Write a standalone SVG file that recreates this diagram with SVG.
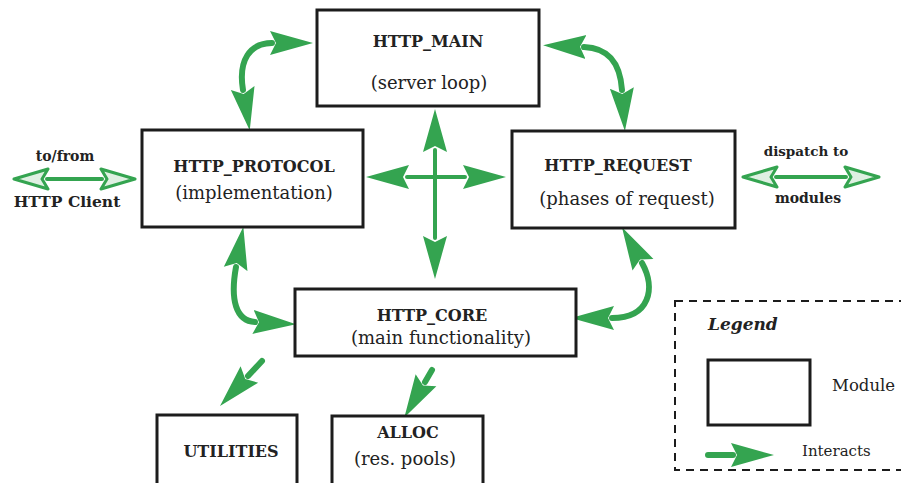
<svg xmlns="http://www.w3.org/2000/svg" width="901" height="483" viewBox="0 0 901 483">
<style>
.box{fill:#fff;stroke:#1c1c1c;stroke-width:3}
.t{font-family:"DejaVu Serif","Liberation Serif",serif;fill:#222;text-anchor:middle}
.ti{font-size:16px;font-weight:bold}
.sub{font-size:18px}
.sm{font-size:14px;font-weight:bold}
.lg{font-size:16.5px}
.ar{fill:none;stroke:#34a450;stroke-linecap:round}
.curve{stroke-width:6}
.thin{stroke-width:4}
</style>
<defs>
<marker id="head" markerUnits="userSpaceOnUse" markerWidth="46" markerHeight="28" refX="2" refY="14" orient="auto-start-reverse">
<path d="M0,2 L43,14 L0,26 L6,14 Z" fill="#34a450"/>
</marker>
<marker id="hollow" markerUnits="userSpaceOnUse" markerWidth="40" markerHeight="26" refX="3" refY="13" orient="auto-start-reverse">
<path d="M2,3 L36,13 L2,23 L8,13 Z" fill="#dff0e2" stroke="#34a450" stroke-width="3" stroke-linejoin="round"/>
</marker>
</defs>
<g id="connectors">
<path class="ar curve" d="M272,43 C250,43 238,60 243,90" marker-start="url(#head)" marker-end="url(#head)"/>
<path class="ar curve" d="M584,47 C608,48 620,62 622,90" marker-start="url(#head)" marker-end="url(#head)"/>
<path class="ar curve" d="M642,263 C656,288 650,318 612,318" marker-start="url(#head)" marker-end="url(#head)"/>
<path class="ar curve" d="M236,267 C230,300 236,321 255,322" marker-start="url(#head)" marker-end="url(#head)"/>
<path class="ar curve" d="M262,361 L248,376" marker-end="url(#head)"/>
<path class="ar curve" d="M432,370 L425,382" marker-end="url(#head)"/>
<path class="ar thin" d="M435,150 L435,238" marker-start="url(#head)" marker-end="url(#head)"/>
<path class="ar thin" d="M407,177 L465,177" marker-start="url(#head)" marker-end="url(#head)"/>
<path class="ar thin" d="M47,179 L102,179" marker-start="url(#hollow)" marker-end="url(#hollow)"/>
<path class="ar thin" d="M776,177 L846,177" marker-start="url(#hollow)" marker-end="url(#hollow)"/>
</g>
<g id="http_main">
<rect class="box" x="317" y="10" width="222" height="96"/>
<text class="t ti" x="428" y="47">HTTP_MAIN</text>
<text class="t sub" x="429" y="89">(server loop)</text>
</g>
<g id="http_protocol">
<rect class="box" x="142" y="130" width="221" height="97"/>
<text class="t ti" x="254" y="172">HTTP_PROTOCOL</text>
<text class="t sub" x="254" y="199">(implementation)</text>
</g>
<g id="http_request">
<rect class="box" x="512" y="131" width="223" height="97"/>
<text class="t ti" x="618" y="171">HTTP_REQUEST</text>
<text class="t sub" x="627" y="205">(phases of request)</text>
</g>
<g id="http_core">
<rect class="box" x="295" y="289" width="281" height="67"/>
<text class="t ti" x="432" y="321">HTTP_CORE</text>
<text class="t sub" x="441" y="344">(main functionality)</text>
</g>
<g id="utilities">
<rect class="box" x="157" y="415" width="140" height="80"/>
<text class="t ti" x="231" y="457">UTILITIES</text>
</g>
<g id="alloc">
<rect class="box" x="332" y="416" width="151" height="80"/>
<text class="t ti" x="408" y="438">ALLOC</text>
<text class="t sub" x="405" y="465">(res. pools)</text>
</g>
<g id="client_label">
<text class="t sm" x="65" y="161">to/from</text>
<text class="t" x="67" y="207" style="font-size:15.5px;font-weight:bold">HTTP Client</text>
</g>
<g id="modules_label">
<text class="t" x="806" y="156" style="font-size:13.5px;font-weight:bold">dispatch to</text>
<text class="t sm" x="808" y="203">modules</text>
</g>
<g id="legend">
<rect x="675" y="301" width="240" height="169" fill="none" stroke="#1c1c1c" stroke-width="2" stroke-dasharray="8,6"/>
<text class="t" x="708" y="330" style="font-size:17px;font-weight:bold;font-style:italic;text-anchor:start">Legend</text>
<rect class="box" x="708" y="360" width="102" height="65"/>
<text class="t lg" x="832" y="391" style="text-anchor:start">Module</text>
<path class="ar curve" d="M708,455 L733,455" marker-end="url(#head)"/>
<text class="t" x="802" y="456" style="font-size:15px;text-anchor:start">Interacts</text>
</g>
</svg>
